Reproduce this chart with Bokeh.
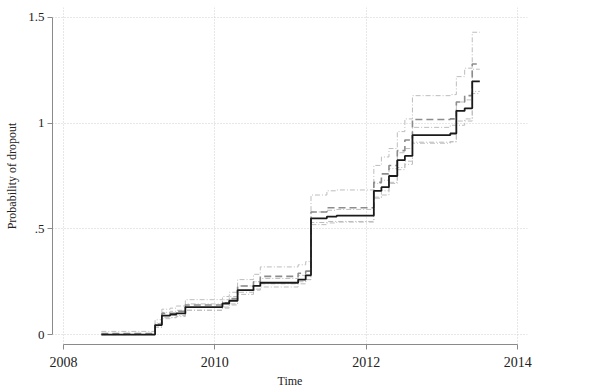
from bokeh.plotting import figure
from bokeh.models import Range1d, FixedTicker, Legend, LegendItem
from bokeh.embed import file_html
from bokeh.resources import INLINE

# step start times (years)
times = [2008.50, 2009.21, 2009.30, 2009.41, 2009.49, 2009.61, 2010.10, 2010.19,
         2010.30, 2010.51, 2010.60, 2011.10, 2011.20, 2011.27, 2011.48, 2011.61,
         2012.10, 2012.20, 2012.30, 2012.41, 2012.51, 2012.61, 2013.11, 2013.19,
         2013.30, 2013.40]
t_end = 2013.50

control = [0.000, 0.045, 0.090, 0.095, 0.100, 0.130, 0.147, 0.160, 0.210, 0.230,
           0.245, 0.260, 0.280, 0.550, 0.558, 0.563, 0.680, 0.697, 0.750, 0.825,
           0.845, 0.943, 0.951, 1.058, 1.070, 1.198]
control_lo = [0.000, 0.035, 0.075, 0.080, 0.085, 0.115, 0.130, 0.140, 0.190, 0.210,
              0.225, 0.240, 0.260, 0.520, 0.528, 0.532, 0.645, 0.660, 0.715, 0.790,
              0.805, 0.905, 0.912, 1.010, 1.020, 1.140]
control_hi = [0.000, 0.055, 0.105, 0.110, 0.115, 0.145, 0.165, 0.180, 0.230, 0.250,
              0.265, 0.280, 0.300, 0.580, 0.588, 0.592, 0.715, 0.730, 0.785, 0.860,
              0.880, 0.980, 0.990, 1.100, 1.110, 1.255]
treatment = [0.005, 0.050, 0.100, 0.100, 0.110, 0.140, 0.150, 0.170, 0.230, 0.250,
             0.275, 0.290, 0.300, 0.580, 0.600, 0.600, 0.720, 0.760, 0.800, 0.870,
             0.920, 1.017, 1.020, 1.100, 1.130, 1.280]
treatment_lo = [0.000, 0.035, 0.080, 0.080, 0.090, 0.115, 0.125, 0.145, 0.200, 0.215,
                0.240, 0.250, 0.260, 0.530, 0.535, 0.535, 0.650, 0.680, 0.720, 0.780,
                0.820, 0.910, 0.912, 0.990, 1.010, 1.150]
treatment_hi = [0.015, 0.070, 0.120, 0.125, 0.135, 0.165, 0.180, 0.200, 0.260, 0.285,
                0.320, 0.330, 0.345, 0.660, 0.680, 0.684, 0.800, 0.840, 0.880, 0.960,
                1.020, 1.130, 1.135, 1.220, 1.260, 1.430]

x_ticks = [2008, 2010, 2012, 2014]
y_ticks = [0, 0.5, 1, 1.5]
y_tick_labels = {0: "0", 0.5: ".5", 1: "1", 1.5: "1.5"}
series_names = ["Control", "Treatment"]

FONT = "Liberation Serif"

p = figure(width=594, height=390, output_backend="svg", toolbar_location=None,
           x_range=Range1d(2007.855, 2014.13), y_range=Range1d(-0.047, 1.547),
           min_border_left=52, min_border_right=67, min_border_top=7,
           min_border_bottom=45)
p.outline_line_color = None
p.background_fill_color = "white"
p.border_fill_color = "white"

xs = times + [t_end]

def ext(v):
    return v + [v[-1]]

ci_kw = dict(line_color="#bdbdbd", line_width=1, line_dash="5 2 1 2", mode="after")
p.step(xs, ext(control_lo), **ci_kw)
p.step(xs, ext(control_hi), **ci_kw)
p.step(xs, ext(treatment_lo), **ci_kw)
p.step(xs, ext(treatment_hi), **ci_kw)
r_t = p.step(xs, ext(treatment), line_color="#8c8c8c", line_width=1.6,
             line_dash="7 4", mode="after")
r_c = p.step(xs, ext(control), line_color="#1a1a1a", line_width=1.8, mode="after")

# axes
for ax in (p.xaxis[0], p.yaxis[0]):
    ax.axis_line_color = "#8a8a8a"
    ax.major_tick_line_color = "#8a8a8a"
    ax.minor_tick_line_color = None
    ax.major_tick_in = 0
    ax.major_tick_out = 5
    ax.major_label_text_font = FONT
    ax.major_label_text_color = "#222222"
    ax.axis_label_text_font = FONT
    ax.axis_label_text_font_style = "normal"
    ax.axis_label_text_color = "#222222"

p.xaxis.ticker = FixedTicker(ticks=x_ticks)
p.xaxis.bounds = (x_ticks[0], x_ticks[-1])
p.xaxis.major_label_text_font_size = "14px"
p.xaxis.major_label_standoff = 7
p.xaxis.axis_label = "Time"
p.xaxis.axis_label_text_font_size = "12px"
p.xaxis.axis_label_standoff = 4

p.yaxis.ticker = FixedTicker(ticks=y_ticks)
p.yaxis.bounds = (y_ticks[0], y_ticks[-1])
p.yaxis.major_label_overrides = y_tick_labels
p.yaxis.major_label_orientation = "horizontal"
p.yaxis.major_label_text_font_size = "13px"
p.yaxis.major_label_standoff = 3
p.yaxis.axis_label = "Probability of dropout"
p.yaxis.axis_label_text_font_size = "12px"
p.yaxis.axis_label_standoff = 6

p.xgrid.ticker = FixedTicker(ticks=x_ticks)
p.ygrid.ticker = FixedTicker(ticks=y_ticks)
for g in (p.xgrid[0], p.ygrid[0]):
    g.grid_line_color = "#cfcfcf"
    g.grid_line_dash = "1 2"
    g.grid_line_width = 1

legend = Legend(items=[LegendItem(label=series_names[0], renderers=[r_c]),
                       LegendItem(label=series_names[1], renderers=[r_t])],
                location=(484, 6), orientation="vertical",
                border_line_color=None, background_fill_alpha=0,
                padding=0, margin=0, spacing=0,
                glyph_width=14, glyph_height=19, label_height=19,
                label_standoff=15, label_text_font=FONT,
                label_text_font_size="13px", label_text_color="#222222")
p.add_layout(legend, "center")

open("out.html", "w").write(file_html(p, INLINE))
